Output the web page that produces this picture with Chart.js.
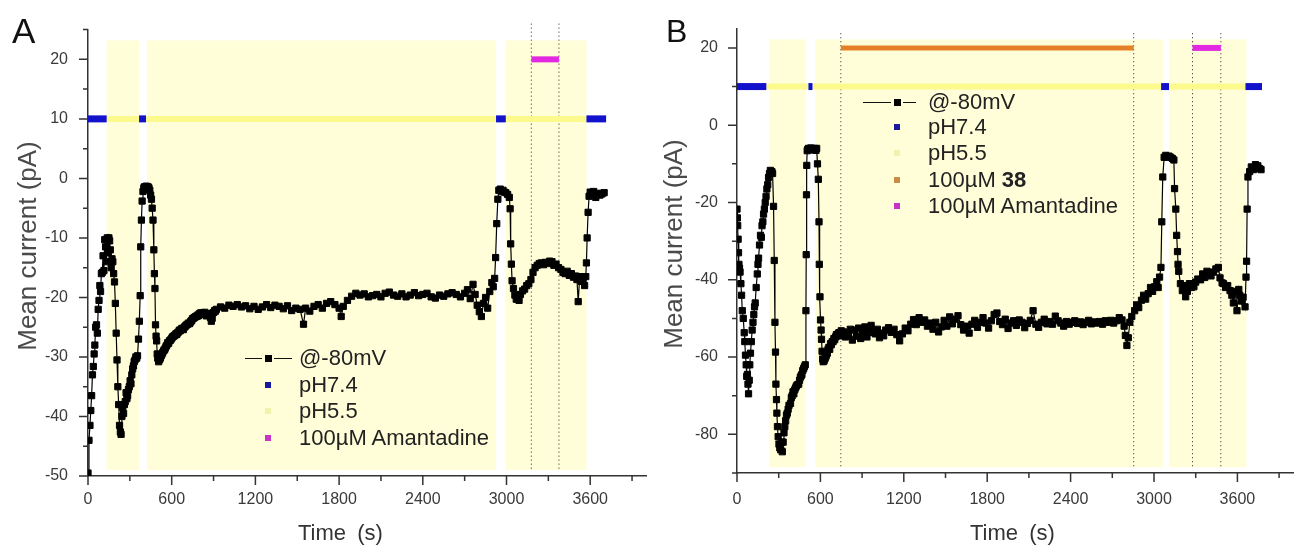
<!DOCTYPE html>
<html>
<head>
<meta charset="utf-8">
<script src="https://cdn.jsdelivr.net/npm/chart.js@4.4.1/dist/chart.umd.min.js"></script>
<style>
  body { margin: 0; width: 1294px; height: 549px; overflow: hidden; background: #fff; position: relative;
         font-family: "Liberation Sans", Arial, sans-serif; }
  canvas { position: absolute; top: 0; }
  .t { position: absolute; white-space: nowrap; line-height: 1; color: #222; }
  .ytitle { transform: translate(-50%, -50%) rotate(-90deg); color: #4a4a4a; }
</style>
</head>
<body>
<canvas id="chartA" width="660" height="549" style="left:0"></canvas>
<canvas id="chartB" width="660" height="549" style="left:650px"></canvas>

<div class="t" style="left:12px;top:13px;font-size:35px;color:#111">A</div>
<div class="t" style="left:666px;top:15px;font-size:32px;color:#111">B</div>
<div class="t ytitle" style="left:27px;top:246px;font-size:26px">Mean current (pA)</div>
<div class="t ytitle" style="left:673px;top:244px;font-size:26px">Mean current (pA)</div>
<div class="t" style="left:298px;top:522px;font-size:22px;word-spacing:5px;color:#333">Time (s)</div>
<div class="t" style="left:970px;top:522px;font-size:22px;word-spacing:5px;color:#333">Time (s)</div>

<script>
// axis ticks (s and pA)
const xMajor = [0, 600, 1200, 1800, 2400, 3000, 3600];
const xMinor = [300, 900, 1500, 2100, 2700, 3300, 3900];
const yMajorA = [-50, -40, -30, -20, -10, 0, 10, 20];
const yMinorA = [-45, -35, -25, -15, -5, 5, 15, 25];
const yMajorB = [-80, -60, -40, -20, 0, 20];
const yMinorB = [-90, -70, -50, -30, -10, 10];

// panel A: [time s, mean current pA]
const traceA = [[0,-49.5],[7,-44],[14,-41.5],[20,-39],[26,-36.5],[32,-33],[38,-31.6],[44,-29.5],[49,-28],[55,-25],
  [61,-24.6],[67,-26],[73,-22],[79,-20.5],[85,-18],[90,-19],[96,-16],[102,-15.8],[108,-13],[114,-15.5],
  [120,-10.3],[126,-11.5],[132,-14],[138,-10],[145,-12.5],[150,-10],[155,-10.5],[160,-12],[166,-15],[172,-13.5],
  [178,-14],[184,-16],[190,-17.4],[196,-21],[202,-26],[208,-30.5],[214,-35],[220,-38],[226,-41.5],[232,-42.6],
  [237,-43],[243,-40],[249,-38.5],[255,-39.5],[261,-38],[267,-37.5],[273,-36],[279,-37],[284,-36.5],[290,-35.5],
  [296,-35],[302,-34],[308,-34.5],[314,-33],[320,-32],[326,-31.5],[331,-30.8],[337,-30.5],[343,-30],[349,-30.2],
  [355,-29.8],[362,-27],[368,-24],[374,-19.7],[378,-11.5],[383,-7],[388,-3.8],[394,-2.2],[400,-1.6],[406,-1.4],
  [412,-1.8],[418,-1.3],[424,-1.5],[430,-1.4],[437,-1.6],[443,-2],[449,-2.8],[455,-3.5],[460,-5],[466,-7],
  [472,-12],[476,-16],[480,-18.5],[484,-24.6],[488,-26.5],[492,-27.3],[496,-29.5],[500,-30.2],[506,-30.8],[512,-30.5],
  [519,-30.2],[525,-29.8],[531,-29.5],[537,-29.2],[543,-28.9],[549,-28.8],[554,-28.5],[560,-28.2],[566,-28],[572,-27.6],
  [578,-27.7],[584,-27.3],[590,-27.2],[596,-27],[602,-26.8],[608,-26.6],[614,-26.5],[620,-26.4],[626,-26.3],[631,-26.1],
  [637,-26.2],[643,-25.9],[649,-25.8],[655,-25.5],[661,-25.6],[667,-25.4],[673,-25.2],[679,-25.3],[684,-25.4],[690,-25],
  [696,-24.9],[702,-24.7],[708,-24.6],[714,-24.5],[720,-24.3],[726,-24.4],[731,-24.3],[737,-24],[743,-23.9],[749,-23.6],
  [755,-23.5],[761,-23.4],[767,-23.3],[773,-23.2],[778,-23.2],[784,-23],[790,-23.1],[796,-22.8],[802,-22.7],[808,-22.6],
  [814,-22.8],[820,-22.6],[825,-22.7],[831,-22.8],[837,-22.5],[843,-22.9],[849,-23.1],[855,-22.7],[861,-22.9],[866,-23],
  [872,-22.9],[878,-23.4],[884,-24],[890,-23.5],[896,-22.6],[902,-22.5],[908,-22.2],[914,-22.3],[920,-22],[950,-21.6],
  [980,-21.8],[1010,-21.3],[1040,-21.5],[1070,-21.2],[1100,-21.6],[1130,-21.4],[1160,-21.9],[1190,-21.5],[1220,-22],[1250,-21.6],
  [1280,-21.2],[1310,-21.7],[1340,-21.3],[1370,-21.5],[1400,-21.9],[1430,-21.4],[1460,-22.2],[1490,-21.8],[1520,-22],[1545,-24.5],
  [1560,-21.8],[1590,-22.3],[1620,-21.5],[1650,-21.2],[1680,-21.8],[1710,-21],[1740,-20.7],[1770,-21.2],[1800,-21.8],[1815,-23.2],
  [1830,-21.5],[1860,-20.5],[1890,-19.8],[1920,-19.3],[1950,-19.6],[1980,-19.4],[2010,-19.9],[2040,-19.7],[2070,-19.5],[2100,-19.9],
  [2130,-19.3],[2160,-19.1],[2190,-19.6],[2220,-19.8],[2250,-19.4],[2280,-19.9],[2310,-19.6],[2340,-19.2],[2370,-19.7],[2400,-19.5],
  [2430,-19.3],[2460,-19.9],[2490,-20.1],[2520,-19.6],[2550,-19.8],[2580,-19.4],[2610,-19.2],[2640,-19.5],[2670,-19.9],[2700,-19.3],
  [2720,-18.7],[2740,-20.2],[2760,-17.8],[2775,-19.5],[2790,-21.3],[2805,-22.4],[2820,-23.2],[2835,-21],[2850,-20],[2865,-21.8],
  [2880,-19],[2895,-17.5],[2905,-18.2],[2915,-16.8],[2922,-13.3],[2930,-7.6],[2938,-3.5],[2945,-2],[2955,-1.8],[2965,-2.2],
  [2975,-2],[2985,-2.3],[2995,-2.4],[3008,-2.7],[3020,-3.2],[3026,-5.1],[3030,-11],[3035,-14.4],[3040,-17.2],[3050,-18.5],
  [3060,-19.6],[3070,-20.3],[3080,-19.8],[3090,-20.5],[3100,-19.5],[3115,-18.9],[3130,-18.6],[3145,-18],[3160,-17.7],[3175,-17],
  [3190,-15.8],[3205,-15],[3220,-14.6],[3235,-14.3],[3250,-14.2],[3265,-14.5],[3280,-14.1],[3295,-14.3],[3310,-13.9],[3326,-14],
  [3340,-14.6],[3355,-14.4],[3373,-15],[3390,-15.3],[3405,-15.8],[3420,-16],[3435,-15.6],[3450,-16.3],[3465,-16],[3480,-16.6],
  [3495,-16.4],[3505,-17],[3514,-20.7],[3525,-16.5],[3535,-17.3],[3549,-17],[3560,-18],[3568,-16.5],[3573,-14.2],[3578,-10],
  [3585,-5.7],[3592,-3],[3600,-2.3],[3612,-2.6],[3625,-2.2],[3640,-3.2],[3655,-2.5],[3670,-2.8],[3685,-2.6],[3700,-2.4]];

// panel A perfusion periods (s)
const acidA = [[134, 366], [423, 2925], [2995, 3573]];          // pH5.5 shading
const neutralBarA = [[0, 134], [366, 416], [2925, 2995], [3573, 3714]];
const acidBarA = [[134, 366], [416, 2925], [2995, 3573]];
const amantadineA = [[3178, 3376]];
const marksA = [3178, 3376];

// panel B: [time s, mean current pA]
const traceB = [[0,-21.7],[3,-24],[5,-26],[8,-29.5],[11,-33],[14,-36],[18,-37],[22,-38],[28,-41],[33,-44],
  [38,-48],[45,-50],[52,-53.7],[56,-56],[61,-59.5],[66,-62],[70,-65],[75,-64.5],[79,-67],[83,-69.5],
  [88,-66],[92,-62],[97,-59],[103,-56],[109,-53],[115,-51],[121,-49],[126,-47],[131,-46],[138,-42],
  [146,-38.5],[151,-36],[155,-34.4],[162,-31],[169,-28.5],[175,-29],[180,-26],[186,-25],[191,-23],[197,-21.7],
  [203,-20],[209,-18.4],[215,-16.5],[221,-15.4],[227,-13.5],[234,-12.5],[240,-11.7],[246,-12.2],[251,-12],[256,-12.5],
  [263,-21],[268,-35],[273,-51],[277,-58.7],[280,-67],[284,-71],[287,-74.5],[291,-78],[296,-80.6],[302,-82.5],
  [308,-83.5],[315,-84],[321,-82],[326,-84.5],[332,-82],[338,-79.6],[344,-78],[350,-76.5],[356,-75],[362,-74.5],
  [368,-73.5],[374,-72.5],[385,-72],[391,-70.5],[397,-70],[403,-69],[409,-69.5],[415,-68.5],[421,-68],[427,-67.5],
  [433,-67.2],[444,-67],[450,-66],[456,-65.2],[462,-64.8],[467,-64.5],[473,-63.5],[479,-63],[485,-62.5],[491,-62],
  [496,-48],[498,-33.5],[500,-18],[502,-10.4],[505,-6.6],[510,-6.2],[515,-6],[520,-6.3],[526,-6],[532,-5.9],
  [538,-6.2],[544,-6.1],[550,-6.4],[556,-6],[562,-6.2],[568,-6.5],[573,-6],[579,-10],[585,-14],[590,-25],
  [592,-36],[597,-44.4],[601,-50.4],[605,-53],[608,-55.4],[612,-58.5],[616,-60.5],[620,-61.2],[626,-61],[632,-60.5],
  [638,-60],[643,-59.5],[650,-59],[655,-58],[661,-57.5],[667,-58],[673,-56.5],[679,-56.8],[685,-56],[691,-56],
  [697,-55.2],[703,-55.5],[709,-54.8],[715,-54.2],[721,-54.5],[727,-54],[733,-53.7],[738,-53.7],[744,-54.5],[750,-53.2],
  [756,-53.8],[762,-54.2],[768,-53.5],[774,-54.3],[780,-54.8],[786,-54.5],[800,-54],[815,-52.8],[830,-55.6],[845,-53],
  [860,-54.6],[875,-52.5],[890,-55.2],[905,-53.5],[920,-52.2],[935,-54.8],[950,-53],[965,-51.8],[980,-53.6],[995,-54],
  [1010,-52.8],[1025,-55],[1040,-53.8],[1055,-54.5],[1070,-53],[1090,-52.4],[1110,-53.6],[1130,-52.8],[1150,-54.2],[1170,-55.8],
  [1190,-54],[1210,-52.5],[1230,-53.2],[1250,-51.5],[1270,-50.3],[1290,-51.6],[1310,-49.8],[1330,-51],[1350,-50.4],[1370,-52],
  [1390,-51.2],[1410,-52.8],[1430,-51],[1450,-53.5],[1470,-52.2],[1490,-50.5],[1510,-52],[1530,-49.6],[1550,-51.4],[1570,-50.2],
  [1590,-49.3],[1610,-51.6],[1630,-53],[1650,-52],[1670,-53.8],[1690,-51.5],[1710,-50.5],[1730,-52.3],[1750,-51],[1770,-49.8],
  [1790,-51.2],[1810,-52.5],[1830,-50.6],[1850,-49],[1870,-48.6],[1890,-50.8],[1910,-51.6],[1930,-50.2],[1950,-52.6],[1970,-51.2],
  [1990,-50.6],[2010,-51.8],[2030,-50.4],[2050,-51],[2070,-52.4],[2090,-51.3],[2110,-50.5],[2130,-48],[2150,-51.5],[2170,-52.3],
  [2190,-51],[2210,-50.2],[2230,-51.4],[2250,-50.8],[2270,-51.5],[2290,-49.4],[2310,-50.6],[2330,-51.2],[2350,-52],[2370,-50.8],
  [2390,-51.5],[2410,-51],[2430,-50.6],[2450,-51.3],[2470,-50.9],[2490,-51.6],[2510,-51],[2530,-50.5],[2550,-51.4],[2570,-50.9],
  [2590,-51.2],[2610,-50.8],[2630,-51.5],[2650,-50.6],[2670,-51],[2690,-50.5],[2710,-51.2],[2730,-50.6],[2750,-49.8],[2770,-50.4],
  [2785,-52],[2794,-54.4],[2805,-57],[2815,-55],[2826,-51],[2840,-49.5],[2861,-48],[2875,-46.5],[2890,-47.2],[2910,-45.3],
  [2925,-44],[2940,-45],[2958,-43.6],[2975,-42],[2990,-43],[3004,-41.8],[3020,-40.5],[3030,-42],[3040,-39.3],[3050,-36.8],
  [3056,-25],[3063,-13.4],[3073,-8.3],[3085,-7.8],[3095,-8.2],[3108,-8],[3120,-8.3],[3132,-8.6],[3143,-9],[3148,-16.4],
  [3157,-21.7],[3163,-28.5],[3169,-32.7],[3173,-36],[3178,-37.8],[3190,-41],[3204,-42.8],[3218,-41.5],[3228,-44.4],[3240,-43],
  [3255,-41],[3270,-42],[3287,-41.8],[3300,-40.6],[3315,-39.8],[3335,-40],[3350,-38.5],[3365,-39.4],[3381,-37.8],[3395,-38.2],
  [3410,-39],[3428,-38],[3445,-37.2],[3463,-36.8],[3475,-39.5],[3490,-40.8],[3500,-41],[3515,-42],[3530,-41.5],[3547,-42.8],
  [3560,-44],[3571,-46],[3585,-43],[3597,-48],[3610,-42.5],[3617,-44],[3630,-45.5],[3641,-44.5],[3655,-47],[3662,-39.3],
  [3666,-35.2],[3670,-21.7],[3676,-13.4],[3688,-12],[3700,-10.8],[3715,-11.5],[3730,-10.2],[3747,-10.5],[3760,-11.2],[3770,-11.5]];

// panel B perfusion periods (s)
const acidB = [[232, 493], [564, 3065], [3108, 3665]];
const neutralBarB = [[0, 211], [514, 543], [3051, 3108], [3658, 3777]];
const acidBarB = [[211, 514], [543, 3051], [3108, 3658]];
const cpd38B = [[747, 2854]];
const amantadineB = [[3277, 3481]];
const marksB = [747, 2854, 3277, 3481];

const FONT = '"Liberation Sans", Arial, sans-serif';
const BLUE = 'rgb(18,18,205)', PALE = 'rgb(252,250,140)', MAGENTA = 'rgb(226,40,226)', ORANGE = 'rgb(228,128,38)';

function bars(list, y, color, width) {
  return list.map(([a, b]) => ({
    data: [{x: a, y: y}, {x: b, y: y}], borderColor: color, borderWidth: width,
    borderCapStyle: 'butt', pointRadius: 0, clip: false
  }));
}
function dotted(list, top, bottom) {
  return list.map(v => ({
    data: [{x: v, y: top}, {x: v, y: bottom}], borderColor: '#222', borderWidth: 1,
    borderDash: [1, 3], pointRadius: 0, clip: false
  }));
}

const panelPlugin = {
  id: 'panel',
  beforeDatasetsDraw(chart, args, opts) {
    const {ctx, scales: {x, y}} = chart;
    ctx.save();
    ctx.fillStyle = 'rgb(255,254,216)';
    opts.bands.forEach(([a, b]) => {
      const x0 = x.getPixelForValue(a), x1 = x.getPixelForValue(b);
      const y0 = y.getPixelForValue(opts.top), y1 = y.getPixelForValue(opts.bottom);
      ctx.fillRect(x0, y0, x1 - x0, y1 - y0);
    });
    ctx.restore();
  },
  afterDraw(chart, args, opts) {
    const {ctx, chartArea: ca, scales: {x, y}} = chart;
    ctx.save();
    ctx.strokeStyle = '#333';
    ctx.lineWidth = 1.5;
    ctx.beginPath();
    const tick = (scale, vals, len) => vals.forEach(v => {
      const p = scale.getPixelForValue(v);
      if (scale.axis === 'x') { ctx.moveTo(p, ca.bottom); ctx.lineTo(p, ca.bottom + len); }
      else { ctx.moveTo(ca.left, p); ctx.lineTo(ca.left - len, p); }
    });
    tick(x, xMajor, 9); tick(x, xMinor, 5);
    tick(y, opts.yMajor, 9); tick(y, opts.yMinor, 5);
    ctx.stroke();
    ctx.restore();
  }
};

function makePanel(id, o) {
  const datasets = [
    { data: o.trace.map(p => ({x: p[0], y: p[1]})), borderColor: '#000', borderWidth: 1.2,
      pointStyle: 'rect', pointRadius: 4.4, pointBorderWidth: 1, pointBackgroundColor: '#000', pointBorderColor: '#000' },
    ...bars(o.neutral, 10, BLUE, 7),
    ...bars(o.acidBar, 10, PALE, 6),
    ...o.drugs,
    ...dotted(o.marks, o.dotTop, o.dotBottom)
  ];
  return new Chart(document.getElementById(id), {
    type: 'line',
    data: { datasets },
    options: {
      responsive: false, animation: false, devicePixelRatio: 1, events: [],
      layout: { padding: { left: 0, right: o.padRight, top: o.padTop, bottom: 0 } },
      plugins: { legend: { display: false }, tooltip: { enabled: false },
        panel: { bands: o.bands, top: o.bandTop, bottom: o.bandBottom, yMajor: o.yMajor, yMinor: o.yMinor } },
      scales: {
        x: { type: 'linear', min: 0, max: 4000,
          grid: { display: false, drawTicks: false },
          border: { display: true, color: '#333', width: 1.5 },
          ticks: { stepSize: 300, autoSkip: false, maxRotation: 0, padding: o.xPad, color: '#3a3a3a',
            font: { family: FONT, size: 16 }, callback: v => xMajor.includes(v) ? String(v) : '' },
          afterFit: s => { s.height = o.xHeight; } },
        y: { type: 'linear', min: o.yMin, max: 25,
          grid: { display: false, drawTicks: false },
          border: { display: true, color: '#333', width: 1.5 },
          ticks: { stepSize: o.yStep, autoSkip: false, padding: o.yPad, color: '#3a3a3a',
            font: { family: FONT, size: 16 }, callback: v => o.yMajor.includes(v) ? String(v) : '' },
          afterFit: s => { s.width = o.yWidth; } }
      }
    },
    plugins: [panelPlugin]
  });
}

makePanel('chartA', {
  trace: traceA, neutral: neutralBarA, acidBar: acidBarA,
  drugs: bars(amantadineA, 20, MAGENTA, 6),
  marks: marksA, dotTop: 26, dotBottom: -49.2,
  bands: acidA, bandTop: 23.2, bandBottom: -49,
  yMin: -50, yStep: 5, yMajor: yMajorA, yMinor: yMinorA,
  padRight: 4, padTop: 19, xHeight: 73, yWidth: 88, xPad: 14, yPad: 20
});
makePanel('chartB', {
  trace: traceB, neutral: neutralBarB, acidBar: acidBarB,
  drugs: [...bars(cpd38B, 20, ORANGE, 5), ...bars(amantadineB, 20, MAGENTA, 6)],
  marks: marksB, dotTop: 23.8, dotBottom: -88.5,
  bands: acidB, bandTop: 22.2, bandBottom: -88.5,
  yMin: -90, yStep: 10, yMajor: yMajorB, yMinor: yMinorB,
  padRight: 5, padTop: 18, xHeight: 76, yWidth: 87, xPad: 17, yPad: 19
});

// in-plot legends
function addLegend(rows, lineL, lineR, markX, textX) {
  rows.forEach(r => {
    const mk = (l, t, w, h, c) => {
      const d = document.createElement('div');
      d.style.cssText = `position:absolute;left:${l}px;top:${t}px;width:${w}px;height:${h}px;background:${c}`;
      document.body.appendChild(d);
    };
    if (r.line) {
      mk(lineL, r.y - 0.5, markX - 6 - lineL, 1.5, '#111');
      mk(markX + 6, r.y - 0.5, lineR - markX - 6, 1.5, '#111');
      mk(markX - 3.5, r.y - 3.5, 7, 7, '#000');
    } else {
      mk(markX - 3, r.y - 3, 6, 6, r.color);
    }
    const t = document.createElement('div');
    t.className = 't';
    t.style.cssText = `left:${textX}px;top:${r.y - 10.7}px;font-size:22px`;
    t.innerHTML = r.label;
    document.body.appendChild(t);
  });
}
addLegend([
  { y: 358, line: true, label: '@-80mV' },
  { y: 384.5, color: 'rgb(25,25,160)', label: 'pH7.4' },
  { y: 411, color: 'rgb(242,242,175)', label: 'pH5.5' },
  { y: 437.5, color: 'rgb(200,50,200)', label: '100µM Amantadine' }
], 245, 292, 268, 299);
addLegend([
  { y: 102, line: true, label: '@-80mV' },
  { y: 127, color: 'rgb(25,25,160)', label: 'pH7.4' },
  { y: 153, color: 'rgb(242,242,175)', label: 'pH5.5' },
  { y: 180, color: 'rgb(205,140,70)', label: '100µM <b>38</b>' },
  { y: 206, color: 'rgb(200,50,200)', label: '100µM Amantadine' }
], 863, 916, 897, 928);
</script>
</body>
</html>
